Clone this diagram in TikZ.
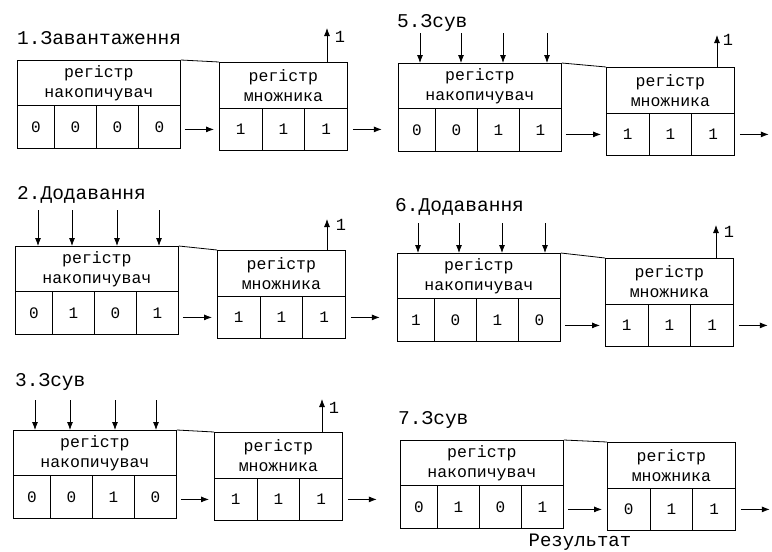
\documentclass[tikz,border=0pt]{standalone}
\usepackage{fontspec}
\setmainfont{Liberation Mono}
\usetikzlibrary{arrows.meta}
\tikzset{
  box/.style={draw, line width=0.8pt, inner sep=0pt, anchor=north west},
  hdr/.style={box, align=center, font=\fontsize{16.5}{20}\selectfont},
  cell/.style={box, font=\fontsize{16}{19}\selectfont},
  ttl/.style={anchor=west, inner sep=0pt, font=\fontsize{19.5}{22}\selectfont},
  arr/.style={line width=0.8pt, -{Latex[length=8pt,width=6pt]}},
  lbl/.style={inner sep=0pt, font=\fontsize{17}{20}\selectfont},
  conn/.style={line width=0.8pt},
}
% #1 name, #2 acc x, #3 acc y, #4 mult x, #5 mult y, #6 acc values, #7 mult values
\newcommand\regpanel[7]{%
  \node[hdr, minimum width=163pt, minimum height=45pt] (#1ah) at (#2,#3) {регістр\\накопичувач};
  \foreach \v [count=\i] in {#6}{%
    \pgfmathsetmacro\xo{\i==1 ? 0 : 37+42*(\i-2)}%
    \pgfmathsetmacro\cw{\i==1 ? 37 : 42}%
    \node[cell, minimum width=\cw pt, minimum height=43pt] (#1a\i) at (#2+\xo,#3+45) {\v};
  }
  \node[hdr, minimum width=128pt, minimum height=46pt] (#1mh) at (#4,#5) {регістр\\множника};
  \foreach \v [count=\i] in {#7}{%
    \pgfmathsetmacro\xo{42.667*(\i-1)}%
    \node[cell, minimum width=42.667pt, minimum height=42pt] (#1m\i) at (#4+\xo,#5+46) {\v};
  }
  \draw[conn] (#1ah.north east) -- (#1mh.north west);
  \draw[arr] ([xshift=4pt]#1a4.east |- #1m1.west) -- ([xshift=-5pt]#1m1.west);
  \coordinate (#1out) at ([xshift=34pt]#1m3.east);
  \draw[arr] ([xshift=5pt]#1m3.east) -- (#1out);
}
% #1 name, #2 top y, #3 list of x
\newcommand\downarrows[3]{%
  \foreach \x [count=\i] in {#3}{%
    \coordinate (#1d\i) at (\x,#2);
    \draw[arr] (#1d\i) -- (#1d\i |- #1ah.north);
  }
}
% #1 name, #2 x, #3 top y, #4 label x, #5 label y
\newcommand\uparr[5]{%
  \coordinate (#1u) at (#2,#3);
  \draw[arr] (#1u |- #1mh.north) -- (#1u);
  \node[lbl] (#1ul) at (#4,#5) {1};
}
\begin{document}
\begin{tikzpicture}[x=1pt,y=-1pt]
\useasboundingbox (0,0) rectangle (772,552);

% Panel 1
\node[ttl] (t1) at (17,38) {1.Завантаження};
\regpanel{p1}{17}{60}{219}{62}{0,0,0,0}{1,1,1}
\uparr{p1}{327}{28}{340}{37}

% Panel 2
\node[ttl] (t2) at (17,195) {2.Додавання};
\regpanel{p2}{15}{246}{217}{250}{0,1,0,1}{1,1,1}
\downarrows{p2}{210}{38,72,117,159}
\uparr{p2}{327}{219}{341}{225}

% Panel 3
\node[ttl] (t3) at (15,382) {3.Зсув};
\regpanel{p3}{13}{430}{214}{432}{0,0,1,0}{1,1,1}
\downarrows{p3}{400}{35,70,115,156}
\uparr{p3}{322}{399}{334}{408}

% Panel 5
\node[ttl] (t5) at (397,23) {5.Зсув};
\regpanel{p5}{398}{63}{606}{67}{0,0,1,1}{1,1,1}
\downarrows{p5}{33}{420,461,503,547}
\uparr{p5}{717}{35}{728}{40}

% Panel 6
\node[ttl] (t6) at (395,207) {6.Додавання};
\regpanel{p6}{397}{253}{605}{258}{1,0,1,0}{1,1,1}
\downarrows{p6}{223}{418,459,502,545}
\uparr{p6}{716}{225}{729}{232}

% Panel 7
\node[ttl] (t7) at (398,420) {7.Зсув};
\regpanel{p7}{400}{440}{607}{442}{0,1,0,1}{0,1,1}
\node[lbl, font=\fontsize{19}{21}\selectfont] (res) at (580,542) {Результат};
\end{tikzpicture}
\end{document}
